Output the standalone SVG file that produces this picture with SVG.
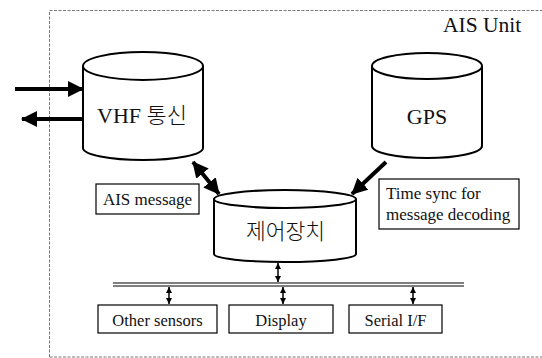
<svg xmlns="http://www.w3.org/2000/svg" width="542" height="358" viewBox="0 0 542 358">
  <style>
    .cyl { fill: #fff; stroke: #000; stroke-width: 2; }
    .box { fill: #fff; stroke: #000; stroke-width: 1.2; }
    .lbl { font-family: "Liberation Serif", serif; fill: #111; }
    .kr { font-family: "Noto Sans CJK KR", sans-serif; font-weight: 300; fill: #111; }
    .thick { stroke: #000; stroke-width: 4; fill: none; }
    .thin { stroke: #000; stroke-width: 1.5; fill: none; }
    .frame { stroke: #777; stroke-width: 1; stroke-dasharray: 3 1.5; fill: none; }
  </style>
  <defs>
    <marker id="bigHead" viewBox="0 0 16 16" refX="15" refY="8" markerWidth="16" markerHeight="16" markerUnits="userSpaceOnUse" orient="auto-start-reverse">
      <path d="M0,0 L16,8 L0,16 Z" fill="#000"/>
    </marker>
    <marker id="smallHead" viewBox="0 0 6 6" refX="6" refY="3" markerWidth="6" markerHeight="6" markerUnits="userSpaceOnUse" orient="auto-start-reverse">
      <path d="M0,0 L6,3 L0,6 Z" fill="#000"/>
    </marker>
  </defs>

  <rect width="542" height="358" fill="#fff"/>

  <!-- unit boundary -->
  <g id="unit-frame">
    <path class="frame" d="M49.5,357 V10.5 H542"/>
    <path class="frame" d="M49.5,357 H542" stroke="#aaa"/>
    <text class="lbl" x="443" y="32" font-size="21.5" font-family="Liberation Serif, serif">AIS Unit</text>
  </g>

  <!-- VHF transceiver -->
  <g id="vhf">
    <path class="cyl" d="M83,66 V148 A60,12 0 0 0 203,148 V66"/>
    <ellipse class="cyl" cx="143" cy="66" rx="60" ry="14"/>
    <text class="lbl" x="142" y="123" font-size="22" text-anchor="middle">VHF <tspan class="kr">통신</tspan></text>
  </g>

  <!-- GPS receiver -->
  <g id="gps">
    <path class="cyl" d="M372,66 V146 A55,12 0 0 0 482,146 V66"/>
    <ellipse class="cyl" cx="427" cy="66" rx="55" ry="13"/>
    <text class="lbl" x="427" y="124" font-size="22" text-anchor="middle">GPS</text>
  </g>

  <!-- control unit -->
  <g id="controller">
    <path class="cyl" d="M214,199 V254 A71,8 0 0 0 356,254 V199"/>
    <ellipse class="cyl" cx="285" cy="199" rx="71" ry="9"/>
    <text class="kr" x="285.5" y="239" font-size="21.5" text-anchor="middle">제어장치</text>
  </g>

  <!-- annotations -->
  <g id="note-ais">
    <rect class="box" x="96" y="184" width="103" height="30"/>
    <text class="lbl" x="147.5" y="205" font-size="17" text-anchor="middle">AIS message</text>
  </g>
  <g id="note-sync">
    <rect class="box" x="379" y="179" width="140" height="50"/>
    <text class="lbl" x="386" y="199" font-size="17">Time sync for</text>
    <text class="lbl" x="386" y="220" font-size="17">message decoding</text>
  </g>

  <!-- peripherals -->
  <g id="other-sensors">
    <rect class="box" x="98" y="305" width="119" height="28"/>
    <text class="lbl" x="157.5" y="326" font-size="16.5" text-anchor="middle">Other sensors</text>
  </g>
  <g id="display">
    <rect class="box" x="229" y="305" width="104" height="28"/>
    <text class="lbl" x="281" y="326" font-size="16.5" text-anchor="middle">Display</text>
  </g>
  <g id="serial">
    <rect class="box" x="349" y="305" width="93" height="28"/>
    <text class="lbl" x="395.5" y="326" font-size="16.5" text-anchor="middle">Serial I/F</text>
  </g>

  <!-- connectors -->
  <g id="connectors">
    <!-- external radio link -->
    <line class="thick" x1="15" y1="89" x2="83" y2="89" marker-end="url(#bigHead)"/>
    <line class="thick" x1="83" y1="119" x2="22" y2="119" marker-end="url(#bigHead)"/>
    <!-- VHF <-> control unit -->
    <line class="thick" x1="193" y1="162" x2="219" y2="194" marker-start="url(#bigHead)" marker-end="url(#bigHead)"/>
    <!-- GPS -> control unit -->
    <line class="thick" x1="386" y1="162" x2="352" y2="194" marker-end="url(#bigHead)"/>
    <!-- internal bus -->
    <line x1="113" y1="283" x2="464" y2="283" stroke="#000" stroke-width="1.2"/>
    <line x1="113" y1="286" x2="464" y2="286" stroke="#000" stroke-width="1.2"/>
    <line class="thin" x1="278" y1="263" x2="278" y2="282" marker-start="url(#smallHead)" marker-end="url(#smallHead)"/>
    <line class="thin" x1="169" y1="287" x2="169" y2="304" marker-start="url(#smallHead)" marker-end="url(#smallHead)"/>
    <line class="thin" x1="283" y1="287" x2="283" y2="304" marker-start="url(#smallHead)" marker-end="url(#smallHead)"/>
    <line class="thin" x1="413" y1="287" x2="413" y2="304" marker-start="url(#smallHead)" marker-end="url(#smallHead)"/>
  </g>
</svg>
